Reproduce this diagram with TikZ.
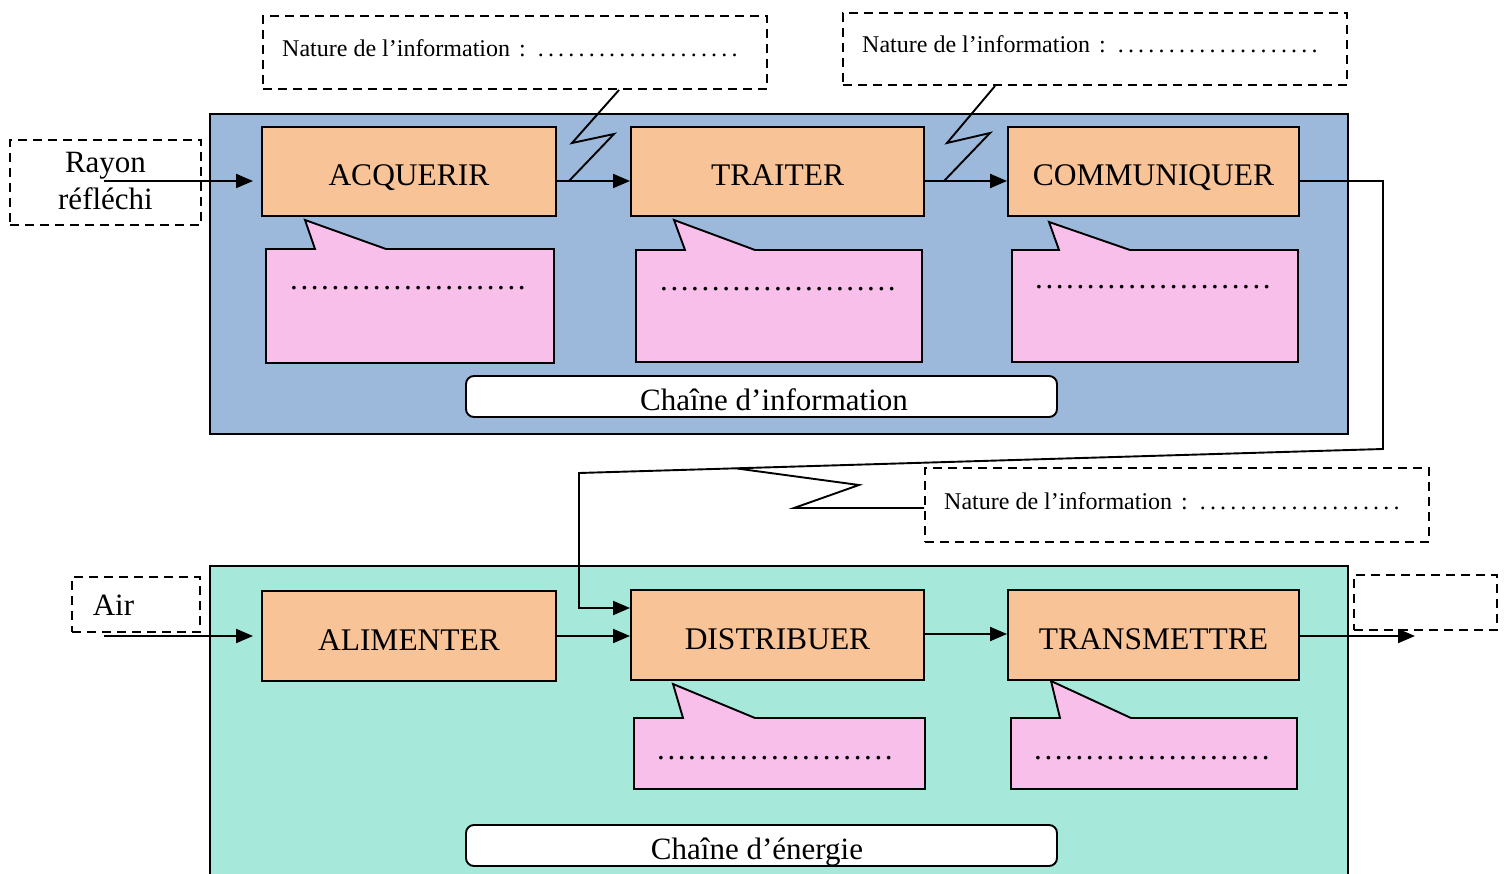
\documentclass[tikz,border=0pt]{standalone}
\usepackage{fontspec}
\setmainfont{Liberation Serif}
\usetikzlibrary{arrows.meta,calc}
\definecolor{chinfo}{HTML}{9CB8DB}
\definecolor{chener}{HTML}{A6E9DB}
\definecolor{fonc}{HTML}{F9C398}
\definecolor{bulle}{HTML}{F9BFEB}
\newcommand\dotrow[2]{\foreach \k in {1,...,#1}{.\hspace{#2}}}
\begin{document}
\begin{tikzpicture}[x=1pt,y=-1pt,
  every node/.style={inner sep=0pt},
  ln/.style={line width=1.9pt},
  fct/.style={draw, ln, fill=fonc, minimum width=294pt, minimum height=89pt,
    font=\fontsize{31.5}{36}\selectfont, text height=28pt, text depth=0pt},
  dbox/.style={draw, ln, dash pattern=on 9pt off 6pt},
  nat/.style={dbox, minimum width=504pt, minimum height=73pt,
    font=\fontsize{24}{28}\selectfont, text height=13pt, text depth=5pt},
  bul/.style={draw, ln, fill=bulle, line join=miter},
  dots/.style={font=\fontsize{31}{36}\selectfont, anchor=base west},
  lbl/.style={draw, ln, fill=white, rounded corners=8pt, minimum width=591pt,
    minimum height=41pt, font=\fontsize{31}{36}\selectfont, text height=27pt, text depth=0pt},
  arr/.style={ln, -{Triangle[length=17pt,width=14pt]}},
  main/.style={font=\fontsize{31}{37}\selectfont}
]
\useasboundingbox (0,0) rectangle (1506,874);

% chain backgrounds
\draw[ln, fill=chinfo] (210,114) rectangle (1348,434);
\draw[ln, fill=chener] (210,566) rectangle (1348,884);

% chain labels
\node[lbl] (lci) at (761.5,396.5) {\hspace*{25pt}Chaîne d’information};
\node[lbl] (lce) at (761.5,845.5) {Chaîne d’énergie\hspace*{9pt}};

% function boxes
\node[fct] (acq) at (409,171.5) {ACQUERIR};
\node[fct, minimum width=293pt] (tra) at (777.5,171.5) {TRAITER};
\node[fct, minimum width=291pt] (com) at (1153.5,171.5) {COMMUNIQUER};
\node[fct, minimum height=90pt] (ali) at (409,636) {ALIMENTER};
\node[fct, minimum width=293pt, minimum height=90pt] (dis) at (777.5,635) {DISTRIBUER};
\node[fct, minimum width=291pt, minimum height=90pt] (trs) at (1153.5,635) {TRANSMETTRE};

% speech bubbles
\coordinate (t1) at (305,220);
\draw[bul] (266,249) -- (315,249) -- (t1) -- (386,249) -- (554,249) -- (554,363) -- (266,363) -- cycle;
\node[dots] (d1) at (290,289.5) {\dotrow{23}{2.6pt}};
\coordinate (t2) at (674,220);
\draw[bul] (636,250) -- (685,250) -- (t2) -- (755,250) -- (922,250) -- (922,362) -- (636,362) -- cycle;
\node[dots] (d2) at (660,291) {\dotrow{23}{2.6pt}};
\coordinate (t3) at (1049,222);
\draw[bul] (1012,250) -- (1059,250) -- (t3) -- (1130,250) -- (1298,250) -- (1298,362) -- (1012,362) -- cycle;
\node[dots] (d3) at (1035,289) {\dotrow{23}{2.6pt}};
\coordinate (t4) at (673,684);
\draw[bul] (634,718) -- (683,718) -- (t4) -- (755,718) -- (925,718) -- (925,789) -- (634,789) -- cycle;
\node[dots] (d4) at (657,759) {\dotrow{23}{2.6pt}};
\coordinate (t5) at (1051,681);
\draw[bul] (1011,718) -- (1060,718) -- (t5) -- (1131,718) -- (1297,718) -- (1297,789) -- (1011,789) -- cycle;
\node[dots] (d5) at (1034,759) {\dotrow{23}{2.6pt}};

% dashed boxes
\node[nat] (n1) at (515,52.5) {Nature de l’information\hspace{9pt}:\hspace{12pt}\dotrow{20}{4.2pt}\hspace*{6pt}};
\node[nat, minimum height=72pt] (n2) at (1095,49) {Nature de l’information\hspace{9pt}:\hspace{12pt}\dotrow{20}{4.2pt}\hspace*{6pt}};
\node[nat, minimum height=74pt, text height=14pt] (n3) at (1177,505) {Nature de l’information\hspace{9pt}:\hspace{12pt}\dotrow{20}{4.2pt}\hspace*{6pt}};
\node[dbox, main, minimum width=191pt, minimum height=85pt, align=center, text depth=4pt] (ray) at (105.5,182.5) {Rayon\\réfléchi};
\node[dbox, main, minimum width=128pt, minimum height=55pt, text height=21pt, text depth=0pt] (air) at (136,604.5) {Air\hspace*{45pt}};
\node[dbox, minimum width=143pt, minimum height=55pt] (vide) at (1425.5,602.5) {};

% information chain arrows
\coordinate (rs) at (104,181);
\draw[arr, shorten >=8pt] (rs) -- (rs -| acq.west);
\draw[arr] ([yshift=-9.5pt]acq.east) -- ([yshift=-9.5pt]tra.west);
\draw[arr] ([yshift=-9.5pt]tra.east) -- ([yshift=-9.5pt]com.west);
\coordinate (k1) at (1383,181);
\coordinate (k2) at (1383,449);
\coordinate (k3) at (579,473);
\coordinate (k4) at (579,608);
\draw[arr, line join=miter] ([yshift=-9.5pt]com.east) -- (k1) -- (k2) -- (k3) -- (k4) -- (k4 -| dis.west);

% lightning links
\draw[ln] ($(n1.south west)+(357,0)$) -- (572,143) -- (614,134) -- (569,181);
\draw[ln] ($(n2.south west)+(153,0)$) -- (947,143) -- (990,133) -- (944,181);
\draw[ln] ([yshift=-3pt]n3.west) -- (794,508) -- (859,485) -- (737,468.5);

% energy chain arrows
\coordinate (as) at (104,636);
\draw[arr, shorten >=8pt] (as) -- (as -| ali.west);
\draw[arr] (ali.east) -- (ali.east -| dis.west);
\draw[arr] ([yshift=1pt]dis.east) -- ([yshift=1pt]trs.west);
\coordinate (os) at (1415,636);
\draw[arr] (trs.east |- os) -- (os);
\end{tikzpicture}
\end{document}
